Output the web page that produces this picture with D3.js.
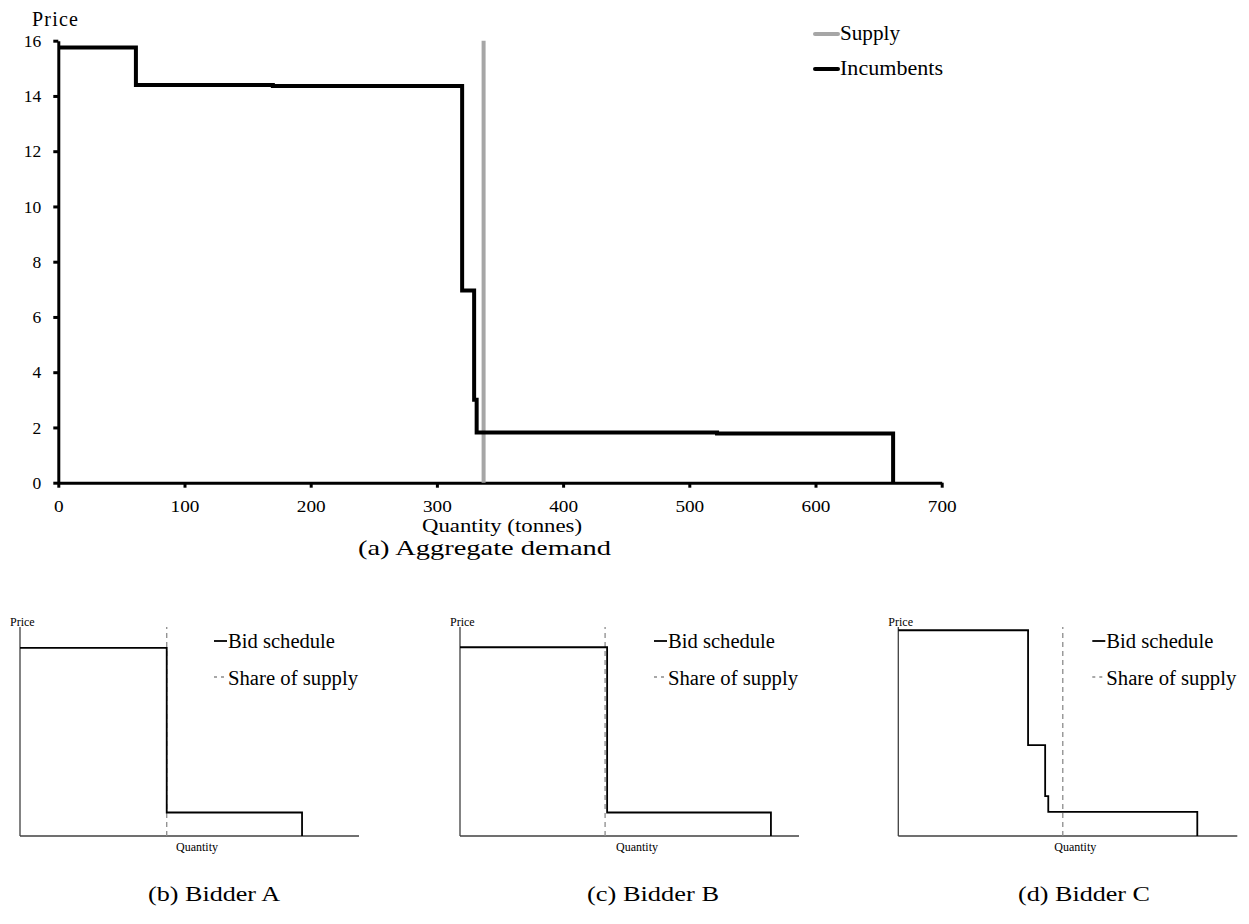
<!DOCTYPE html>
<html>
<head>
<meta charset="utf-8">
<script src="https://cdn.jsdelivr.net/npm/d3@7"></script>
<style>
  body { margin: 0; background: #fff; }
  text { font-family: "Liberation Serif", "Times New Roman", Times, serif; fill: #000; }
</style>
</head>
<body>
<div id="vis"></div>
<script>
// aggregate demand (step breakpoints)
const demandQty = [0, 61.5, 170, 320, 329.5, 331.5, 522, 661.5];
const demandPrice = [15.75, 14.4, 14.36, 6.96, 3.0, 1.82, 1.78, 0];
const supplyQty = 337;
const xTicks = [0, 100, 200, 300, 400, 500, 600, 700];
const yTicks = [0, 2, 4, 6, 8, 10, 12, 14, 16];

// bidders (quantity on a 0-250 axis, price on 0-16)
const bidders = ["A", "B", "C"];
const bidQty = [
  [0, 108.2, 208],
  [0, 108.5, 229.3],
  [0, 95.7, 108.3, 110.6, 220.5]
];
const bidPrice = [
  [14.4, 1.8, 0],
  [14.45, 1.8, 0],
  [15.75, 6.96, 3.05, 1.85, 0]
];
const shareQty = [108.2, 107, 121.3];
const captions = ["(b) Bidder A", "(c) Bidder B", "(d) Bidder C"];

const W = 1249, H = 924;
const svg = d3.select('#vis').append('svg')
  .attr('width', W).attr('height', H);

// ---------- main chart ----------
const x = d3.scaleLinear().domain([0, 700]).range([58.3, 941.7]);
const y = d3.scaleLinear().domain([0, 16]).range([482.7, 40.7]);

const xAxis = svg.append('g')
  .attr('transform', `translate(0,${y(0)})`)
  .call(d3.axisBottom(x).tickValues(xTicks).tickSize(5).tickSizeOuter(0).tickPadding(12));
const yAxis = svg.append('g')
  .attr('transform', `translate(${x(0)},0)`)
  .call(d3.axisLeft(y).tickValues(yTicks).tickSize(5).tickSizeOuter(0).tickPadding(12));

[xAxis, yAxis].forEach(a => {
  a.select('.domain').attr('stroke', '#000').attr('stroke-width', 3);
  a.selectAll('.tick line').attr('stroke', '#000').attr('stroke-width', 3);
  a.selectAll('.tick text')
    .style('font-family', '"Liberation Serif", "Times New Roman", serif')
    .style('font-size', '17.5px');
});
// labels in the reference are slightly wider than the font
xAxis.selectAll('.tick text').attr('transform', 'scale(1.1,1)');

// supply
svg.append('line')
  .attr('x1', x(supplyQty)).attr('x2', x(supplyQty))
  .attr('y1', y(0)).attr('y2', y(16))
  .attr('stroke', '#a6a6a6').attr('stroke-width', 4);

// incumbents
const demandLine = d3.line()
  .x(d => x(d[0])).y(d => y(d[1]))
  .curve(d3.curveStepAfter);
svg.append('path')
  .datum(d3.zip(demandQty, demandPrice))
  .attr('d', demandLine)
  .attr('fill', 'none').attr('stroke', '#000').attr('stroke-width', 4);

svg.append('text').attr('x', 32).attr('y', 26)
  .style('font-size', '20px').attr('textLength', 46).text('Price');
svg.append('text').attr('x', 502).attr('y', 532).attr('text-anchor', 'middle')
  .attr('textLength', 160).attr('lengthAdjust', 'spacingAndGlyphs')
  .style('font-size', '19px').text('Quantity (tonnes)');

// legend
const legend = [["Supply", '#a6a6a6', 34, 60], ["Incumbents", '#000', 69, 103]];
legend.forEach(([name, col, ly, len]) => {
  svg.append('line').attr('x1', 815).attr('x2', 838).attr('y1', ly).attr('y2', ly)
    .attr('stroke', col).attr('stroke-width', 4).attr('stroke-linecap', 'round');
  svg.append('text').attr('x', 840).attr('y', ly + 6)
    .attr('textLength', len).attr('lengthAdjust', 'spacingAndGlyphs')
    .style('font-size', '20px').text(name);
});

svg.append('text').attr('x', 484.5).attr('y', 555).attr('text-anchor', 'middle')
  .attr('textLength', 253).attr('lengthAdjust', 'spacingAndGlyphs')
  .style('font-size', '22px').text('(a) Aggregate demand');

// ---------- bidder panels ----------
const panelX = [20, 460, 898.3];
const panelW = 339;

bidders.forEach((b, i) => {
  const ox = panelX[i];
  const px = d3.scaleLinear().domain([0, 250]).range([ox, ox + panelW]);
  const py = d3.scaleLinear().domain([0, 16]).range([836, 627]);
  const g = svg.append('g');

  // axes
  g.append('line').attr('x1', px(0)).attr('x2', px(0)).attr('y1', py(0)).attr('y2', py(16))
    .attr('stroke', '#404040').attr('stroke-width', 1.3);
  g.append('line').attr('x1', px(0)).attr('x2', px(250)).attr('y1', py(0)).attr('y2', py(0))
    .attr('stroke', '#404040').attr('stroke-width', 1.3);

  // share of supply
  g.append('line').attr('x1', px(shareQty[i])).attr('x2', px(shareQty[i]))
    .attr('y1', py(0)).attr('y2', py(16))
    .attr('stroke', '#8c8c8c').attr('stroke-width', 1.3).attr('stroke-dasharray', '5,4');

  // bid schedule
  g.append('path')
    .datum(d3.zip(bidQty[i], bidPrice[i]))
    .attr('d', d3.line().x(d => px(d[0])).y(d => py(d[1])).curve(d3.curveStepAfter))
    .attr('fill', 'none').attr('stroke', '#000').attr('stroke-width', 1.8);

  g.append('text').attr('x', ox - 10).attr('y', 626)
    .style('font-size', '12px').text('Price');
  g.append('text').attr('x', ox + 177).attr('y', 851).attr('text-anchor', 'middle')
    .style('font-size', '12px').text('Quantity');

  // legend
  const lx = ox + 194;
  g.append('line').attr('x1', lx).attr('x2', lx + 13).attr('y1', 641).attr('y2', 641)
    .attr('stroke', '#000').attr('stroke-width', 1.8);
  g.append('text').attr('x', lx + 14).attr('y', 648)
    .attr('textLength', 107).attr('lengthAdjust', 'spacingAndGlyphs')
    .style('font-size', '20px').text('Bid schedule');
  g.append('line').attr('x1', lx).attr('x2', lx + 13).attr('y1', 677).attr('y2', 677)
    .attr('stroke', '#8c8c8c').attr('stroke-width', 1.3).attr('stroke-dasharray', '3,4');
  g.append('text').attr('x', lx + 14).attr('y', 685)
    .attr('textLength', 130).attr('lengthAdjust', 'spacingAndGlyphs')
    .style('font-size', '20px').text('Share of supply');

  const cx = [214, 653, 1084][i];
  svg.append('text').attr('x', cx).attr('y', 901).attr('text-anchor', 'middle')
    .attr('textLength', 132).attr('lengthAdjust', 'spacingAndGlyphs')
    .style('font-size', '22px').text(captions[i]);
});
</script>
</body>
</html>
